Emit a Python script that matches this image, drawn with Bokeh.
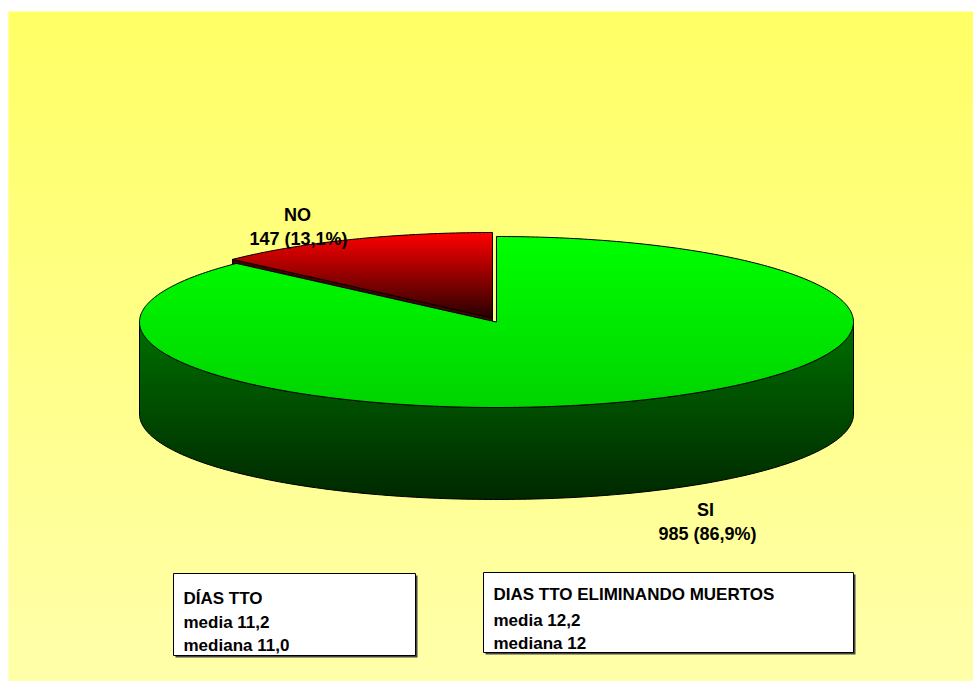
import numpy as np
from bokeh.plotting import figure
from bokeh.models import Range1d
from bokeh.core.properties import value
from bokeh.embed import file_html
from bokeh.resources import INLINE

# ---------------- data ----------------
categories = ["SI", "NO"]
values = [985, 147]
pct_labels = ["86,9%", "13,1%"]
box1_lines = ["DÍAS TTO", "media 11,2", "mediana 11,0"]
box2_lines = ["DIAS TTO ELIMINANDO MUERTOS", "media 12,2", "mediana 12"]

# ---------------- layout ----------------
W, H = 973, 681
CX, CY, RX, RY = 496.0, 321.5, 357.0, 85.5
DEPTH = 92.0
EXPLODE = (-4.0, -4.0)
FONT = value("Liberation Sans")


def hex2rgb(h):
    h = h.lstrip("#")
    return np.array([int(h[i:i + 2], 16) for i in (0, 2, 4)], dtype=float)


def lerp(c0, c1, t):
    a, b = hex2rgb(c0), hex2rgb(c1)
    c = np.clip(np.round(a + (b - a) * t), 0, 255).astype(int)
    return "#%02x%02x%02x" % tuple(c)


def P(theta, off=(0.0, 0.0)):
    # theta measured counter-clockwise from 12 o'clock, screen coords (y down)
    return CX - RX * np.sin(theta) + off[0], CY - RY * np.cos(theta) + off[1]


def clip_half(pts, y0, keep_ge):
    out = []
    n = len(pts)
    if n == 0:
        return out
    def inside(p):
        return p[1] >= y0 if keep_ge else p[1] <= y0
    for i in range(n):
        cur = pts[i]
        prev = pts[i - 1]
        ci, pi = inside(cur), inside(prev)
        if ci:
            if not pi:
                t = (y0 - prev[1]) / (cur[1] - prev[1])
                out.append((prev[0] + t * (cur[0] - prev[0]), y0))
            out.append(cur)
        elif pi:
            t = (y0 - prev[1]) / (cur[1] - prev[1])
            out.append((prev[0] + t * (cur[0] - prev[0]), y0))
    return out


def bands(xs, ys, y_top, y_bot, c_top, c_bot, n=80):
    pts = list(zip(xs, ys))
    bx, by, cols = [], [], []
    edges = np.linspace(y_top, y_bot, n + 1)
    for i in range(n):
        y0, y1 = edges[i], edges[i + 1] + 0.8
        poly = clip_half(clip_half(pts, y0, True), y1, False)
        if len(poly) < 3:
            continue
        bx.append([q[0] for q in poly])
        by.append([q[1] for q in poly])
        cols.append(lerp(c_top, c_bot, (i + 0.5) / n))
    return bx, by, cols


p = figure(width=W, height=H, x_range=Range1d(0, W), y_range=Range1d(H, 0),
           output_backend="svg", toolbar_location=None, min_border=0)
p.axis.visible = False
p.grid.visible = False
p.outline_line_color = None
p.background_fill_color = "white"
p.border_fill_color = "white"

# background gradient
ys_bg = np.arange(11, H, 1.0)
bg_cols = [lerp("#ffff66", "#ffffaa", (y - 11) / (H - 11)) for y in ys_bg]
p.quad(left=8, right=W, top=ys_bg, bottom=ys_bg + 1.6, fill_color=bg_cols, line_alpha=0)

# angles
total = float(sum(values))
a_no = 2 * np.pi * values[1] / total

# ---- red slice (NO), exploded ----
tip = P(a_no, EXPLODE)
ctr = (CX + EXPLODE[0], CY + EXPLODE[1])
face_x = [tip[0], ctr[0], ctr[0], tip[0]]
face_y = [tip[1], ctr[1], ctr[1] + DEPTH, tip[1] + DEPTH]
p.patch(face_x, face_y, fill_color="#4a0000", line_color="black", line_width=1)

th = np.linspace(0, a_no, 80)
rx_, ry_ = P(th, EXPLODE)
red_x = [ctr[0]] + list(rx_)
red_y = [ctr[1]] + list(ry_)
bx, by, cols = bands(red_x, red_y, CY - RY + EXPLODE[1], CY + EXPLODE[1], "#ff0000", "#280000")
p.patches(bx, by, fill_color=cols, line_alpha=0)
p.patch(red_x, red_y, fill_alpha=0, line_color="black", line_width=1)

# ---- green side (SI) ----
th = np.linspace(np.pi / 2, 3 * np.pi / 2, 200)
sx, sy = P(th)
side_x = list(sx) + list(sx[::-1])
side_y = list(sy) + list((sy + DEPTH)[::-1])
bx, by, cols = bands(side_x, side_y, CY, CY + RY + DEPTH, "#007000", "#002800")
p.patches(bx, by, fill_color=cols, line_alpha=0)
p.patch(side_x, side_y, fill_alpha=0, line_color="black", line_width=1)

# ---- green top (SI) ----
th = np.linspace(a_no, 2 * np.pi, 400)
gx, gy = P(th)
green_x = [CX] + list(gx)
green_y = [CY] + list(gy)
bx, by, cols = bands(green_x, green_y, CY - RY, CY + RY, "#00ff00", "#00d400")
p.patches(bx, by, fill_color=cols, line_alpha=0)
p.patch(green_x, green_y, fill_alpha=0, line_color="black", line_width=1)

# ---- slice labels ----
lab_x = [297, 298, 705, 707]
lab_y = [214, 238, 509, 533]
lab_t = [categories[1], "%d (%s)" % (values[1], pct_labels[1]),
         categories[0], "%d (%s)" % (values[0], pct_labels[0])]
p.text(x=lab_x, y=lab_y, text=lab_t, text_font=FONT, text_font_style="bold",
       text_font_size="18px", text_align="center", text_baseline="alphabetic",
       text_color="black")

# ---- info boxes ----
boxes = [(173, 415, 573, 655), (483, 853, 572, 652)]
p.quad(left=[b[0] + 2 for b in boxes], right=[b[1] + 2 for b in boxes],
       top=[b[2] + 2 for b in boxes], bottom=[b[3] + 2 for b in boxes],
       fill_color="#444444", line_alpha=0)
p.quad(left=[b[0] for b in boxes], right=[b[1] for b in boxes],
       top=[b[2] for b in boxes], bottom=[b[3] for b in boxes],
       fill_color="white", line_color="black", line_width=1)

tx = [183] * 3 + [493] * 3
ty = [598, 622, 645, 594, 620, 643]
tt = box1_lines + box2_lines
p.text(x=tx, y=ty, text=tt, text_font=FONT, text_font_style="bold",
       text_font_size="17px", text_align="left", text_baseline="alphabetic",
       text_color="black")

open("out.html", "w").write(file_html(p, INLINE))
